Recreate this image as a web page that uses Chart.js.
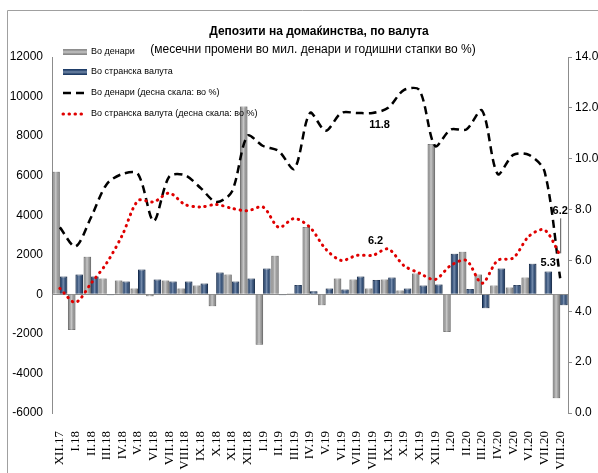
<!DOCTYPE html>
<html>
<head>
<meta charset="utf-8">
<script src="https://cdn.jsdelivr.net/npm/chart.js@4.4.0/dist/chart.umd.min.js"></script>
<style>
  html, body { margin: 0; padding: 0; background: #fff; }
  #wrap { position: relative; width: 598px; height: 473px; }
</style>
</head>
<body>
<div id="wrap"><canvas id="depositChart" width="598" height="473"></canvas></div>
<script>
// Months, Dec 2017 - Aug 2020
const months = ['XII.17', 'I.18', 'II.18', 'III.18', 'IV.18', 'V.18', 'VI.18', 'VII.18', 'VIII.18', 'IX.18',
  'X.18', 'XI.18', 'XII.18', 'I.19', 'II.19', 'III.19', 'IV.19', 'V.19', 'VI.19', 'VII.19', 'VIII.19',
  'IX.19', 'X.19', 'XI.19', 'XII.19', 'I.20', 'II.20', 'III.20', 'IV.20', 'V.20', 'VI.20', 'VII.20', 'VIII.20'];

// Monthly changes, million denars (left scale)
const denarChange = [6200, -1800, 1900, 800, 700, 300, -100, 700, 300, 450,
  -600, 1000, 9500, -2550, 1950, 50, 3400, -550, 800, 750, 300,
  750, 200, 1050, 7600, -1900, 2150, 1000, 450, 350, 850, -50, -5250];
const foreignChange = [900, 1000, 900, -50, 650, 1250, 750, 650, 650, 550,
  1100, 650, 800, 1300, -50, 470, 150, 300, 250, 900, 730,
  850, 290, 450, 500, 2050, 270, -700, 1300, 470, 1550, 1150, -550];

// Annual growth rates, % (right scale)
const denarGrowth = [7.3, 6.55, 7.7, 9.0, 9.4, 9.4, 7.55, 9.3, 9.35, 8.85,
  8.3, 8.7, 10.9, 10.5, 10.3, 9.6, 11.8, 11.1, 11.8, 11.8, 11.8,
  12.0, 12.7, 12.7, 10.5, 11.15, 11.15, 11.9, 9.4, 10.15, 10.15, 9.5, 5.3];
const foreignGrowth = [4.9, 4.35, 5.1, 5.9, 7.0, 8.35, 8.3, 8.65, 8.2, 8.1,
  8.2, 8.05, 7.95, 8.1, 7.3, 7.65, 7.3, 6.45, 6.0, 6.2, 6.2,
  6.45, 5.8, 5.5, 5.25, 5.8, 6.0, 5.1, 6.0, 6.1, 6.95, 7.2, 6.2];

const seriesNames = ['Во денари', 'Во странска валута', 'Во денари (десна скала: во %)', 'Во странска валута (десна скала: во %)'];
const titleText = 'Депозити на домаќинства, по валута';
const subtitleText = '(месечни промени во мил. денари и годишни стапки во %)';

const GRAY = '#a6a6a6';
const BLUE = '#1c4278';
const AXIS = '#8c8c8c';

// Frame, title and subtitle
const framePlugin = {
  id: 'frame',
  beforeDraw(chart) {
    const ctx = chart.ctx;
    ctx.save();
    ctx.strokeStyle = '#a0a0a0';
    ctx.lineWidth = 1;
    ctx.beginPath();
    ctx.moveTo(7.5, 473);
    ctx.lineTo(7.5, 10.5);
    ctx.lineTo(598, 10.5);
    ctx.stroke();
    ctx.fillStyle = '#000';
    ctx.textAlign = 'center';
    ctx.textBaseline = 'middle';
    ctx.font = 'bold 12px "Liberation Sans", Arial, sans-serif';
    ctx.fillText(titleText, 319, 32);
    ctx.font = '12px "Liberation Sans", Arial, sans-serif';
    ctx.fillText(subtitleText, 313, 50);
    ctx.restore();
  }
};

// Highlight stripe on bars (Excel cylinder look)
const barShadePlugin = {
  id: 'barShade',
  afterDatasetDraw(chart, args) {
    const meta = args.meta;
    if (meta.type !== 'bar') return;
    const ctx = chart.ctx;
    ctx.save();
    meta.data.forEach(bar => {
      const left = bar.x - bar.width / 2;
      const top = Math.min(bar.y, bar.base);
      const h = Math.abs(bar.base - bar.y);
      if (h < 1) return;
      const g = ctx.createLinearGradient(left, 0, left + bar.width, 0);
      g.addColorStop(0, 'rgba(0,0,0,0.15)');
      g.addColorStop(0.45, 'rgba(255,255,255,0.4)');
      g.addColorStop(1, 'rgba(0,0,0,0.2)');
      ctx.fillStyle = g;
      ctx.fillRect(left, top, bar.width, h);
    });
    ctx.restore();
  }
};

// Legend drawn inside the top left corner
const cornerLegendPlugin = {
  id: 'cornerLegend',
  afterDraw(chart) {
    const ctx = chart.ctx;
    const rows = [52, 72, 93, 114];
    ctx.save();
    ctx.font = '9px "Liberation Sans Narrow", "Liberation Sans", Arial, sans-serif';
    ctx.textBaseline = 'middle';
    ctx.fillStyle = '#000';
    chart.data.datasets.forEach((ds, i) => {
      const y = rows[i];
      if (ds.type === 'bar') {
        ctx.fillStyle = ds.backgroundColor;
        ctx.fillRect(63, y - 3, 24, 6);
        const g = ctx.createLinearGradient(0, y - 3, 0, y + 3);
        g.addColorStop(0, 'rgba(0,0,0,0.15)');
        g.addColorStop(0.5, 'rgba(255,255,255,0.4)');
        g.addColorStop(1, 'rgba(0,0,0,0.2)');
        ctx.fillStyle = g;
        ctx.fillRect(63, y - 3, 24, 6);
      } else {
        ctx.strokeStyle = ds.borderColor;
        ctx.lineWidth = ds.borderWidth;
        ctx.lineCap = ds.borderCapStyle || 'butt';
        ctx.setLineDash(ds.borderDash);
        ctx.beginPath();
        ctx.moveTo(63, y);
        ctx.lineTo(87, y);
        ctx.stroke();
        ctx.setLineDash([]);
      }
      ctx.fillStyle = '#000';
      ctx.fillText(ds.label, 91, y);
    });
    ctx.restore();
  }
};

// Value labels on the lines
const valueLabelPlugin = {
  id: 'valueLabels',
  afterDatasetsDraw(chart) {
    const ctx = chart.ctx;
    const den = chart.getDatasetMeta(2).data;
    const frg = chart.getDatasetMeta(3).data;
    const mid = 20;
    const last = months.length - 1;
    ctx.save();
    ctx.font = 'bold 11px "Liberation Sans", Arial, sans-serif';
    ctx.fillStyle = '#000';
    ctx.textAlign = 'center';
    ctx.textBaseline = 'middle';
    ctx.fillText(denarGrowth[mid].toFixed(1), den[mid].x + 7, den[mid].y + 12);
    ctx.fillText(foreignGrowth[mid].toFixed(1), frg[mid].x + 3, frg[mid].y - 14);
    ctx.fillText(denarGrowth[last].toFixed(1), den[last].x - 12, den[last].y - 15);
    ctx.fillText(foreignGrowth[last].toFixed(1), frg[last].x, frg[last].y - 44);
    ctx.strokeStyle = '#555';
    ctx.lineWidth = 1;
    ctx.beginPath();
    ctx.moveTo(frg[last].x + 0.5, frg[last].y - 37);
    ctx.lineTo(frg[last].x + 0.5, frg[last].y - 2);
    ctx.stroke();
    ctx.restore();
  }
};

const tickFont = { family: '"Liberation Sans", Arial, sans-serif', size: 12 };

const ctx = document.getElementById('depositChart').getContext('2d');
const depositChart = new Chart(ctx, {
  data: {
    labels: months,
    datasets: [
      {
        type: 'bar',
        label: seriesNames[0],
        data: denarChange,
        backgroundColor: GRAY,
        borderColor: '#808080',
        borderWidth: 1,
        yAxisID: 'y',
        order: 2
      },
      {
        type: 'bar',
        label: seriesNames[1],
        data: foreignChange,
        backgroundColor: BLUE,
        borderColor: '#132e56',
        borderWidth: 1,
        yAxisID: 'y',
        order: 2
      },
      {
        type: 'line',
        label: seriesNames[2],
        data: denarGrowth,
        borderColor: '#000',
        borderWidth: 2.5,
        borderDash: [8, 5],
        pointRadius: 0,
        tension: 0.3,
        yAxisID: 'y1',
        order: 1
      },
      {
        type: 'line',
        label: seriesNames[3],
        data: foreignGrowth,
        borderColor: '#e00000',
        borderWidth: 3,
        borderDash: [0.5, 5.5],
        borderCapStyle: 'round',
        pointRadius: 0,
        tension: 0.3,
        yAxisID: 'y1',
        order: 0
      }
    ]
  },
  options: {
    responsive: false,
    animation: false,
    layout: { padding: { top: 57, left: 0, right: 0, bottom: 0 } },
    datasets: {
      bar: { categoryPercentage: 0.96, barPercentage: 1 }
    },
    plugins: {
      legend: { display: false },
      tooltip: { enabled: false }
    },
    scales: {
      x: {
        offset: true,
        grid: { display: false },
        border: { display: false },
        ticks: {
          autoSkip: false,
          maxRotation: 90,
          minRotation: 90,
          padding: 10,
          color: '#000',
          font: { family: '"Liberation Serif", "Times New Roman", serif', size: 13 }
        },
        afterFit(scale) { scale.height = 60; }
      },
      y: {
        position: 'left',
        min: -6000,
        max: 12000,
        ticks: { stepSize: 2000, padding: 9, color: '#000', font: tickFont, callback: v => String(v) },
        grid: {
          drawTicks: false,
          color: c => (c.tick && c.tick.value === 0 ? AXIS : 'transparent')
        },
        border: { display: true, color: AXIS },
        afterFit(scale) { scale.width = 52; }
      },
      y1: {
        position: 'right',
        min: 0,
        max: 14,
        ticks: {
          stepSize: 2,
          padding: 3,
          color: '#000',
          font: tickFont,
          callback: v => v.toFixed(1)
        },
        grid: { drawOnChartArea: false, drawTicks: true, tickLength: 4, color: AXIS },
        border: { display: true, color: AXIS },
        afterFit(scale) { scale.width = 30; }
      }
    }
  },
  plugins: [framePlugin, barShadePlugin, cornerLegendPlugin, valueLabelPlugin]
});
</script>
</body>
</html>
